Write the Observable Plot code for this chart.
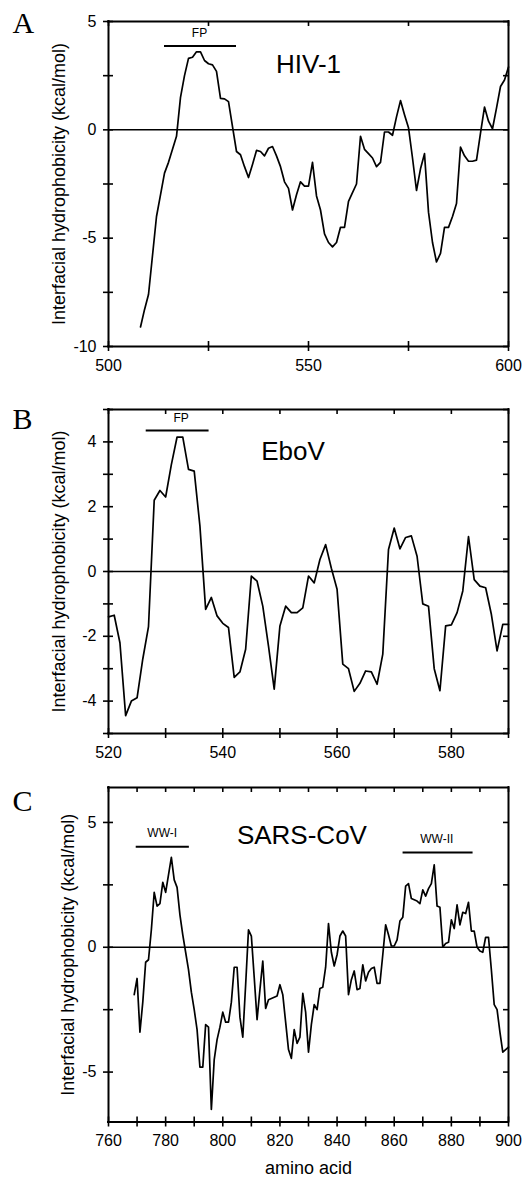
<!DOCTYPE html>
<html><head><meta charset="utf-8">
<script src="https://cdn.jsdelivr.net/npm/d3@7"></script>
<script src="https://cdn.jsdelivr.net/npm/@observablehq/plot@0.6"></script>
<style>
body{margin:0;background:#fff;width:523px;height:1177px;overflow:hidden}
.panel{display:block;line-height:0}
.panel svg{display:block}
</style></head><body>
<div id="pa" class="panel"></div>
<div id="pb" class="panel"></div>
<div id="pc" class="panel"></div>
<script>
// ---------- DATA ----------
const yTitle = "Interfacial hydrophobicity (kcal/mol)";
const xTitle = "amino acid";

// Panel A: HIV-1
const hivStart = 508;
const hivValues = [
  -9.1, -8.3, -7.6, -5.8, -4.0, -3.0, -2.0, -1.5, -0.9, -0.3,
  1.5, 2.5, 3.3, 3.35, 3.6, 3.6, 3.2, 3.05, 3.0, 2.7,
  1.45, 1.43, 1.3, 0.15, -1.0, -1.15, -1.7, -2.2, -1.6, -0.95,
  -1.0, -1.2, -0.85, -0.77, -1.2, -1.7, -2.4, -2.7, -3.7, -3.0,
  -2.4, -2.6, -2.6, -1.5, -3.05, -3.7, -4.8, -5.2, -5.4, -5.2,
  -4.5, -4.5, -3.3, -2.9, -2.5, -0.3, -0.9, -1.1, -1.3, -1.7,
  -1.5, -0.1, -0.1, -0.25, 0.6, 1.35, 0.7, 0.1, -1.3, -2.8,
  -1.8, -1.1, -3.8, -5.2, -6.1, -5.7, -4.5, -4.5, -4.0, -3.4,
  -0.8, -1.2, -1.45, -1.45, -1.4, -0.15, 1.05, 0.4, 0.05, 1.0,
  2.0, 2.3, 2.9
];
const hivXTicks = [500, 525, 550, 575, 600];
const hivXLabels = [500, 550, 600];
const hivYTicks = [-10, -7.5, -5, -2.5, 0, 2.5, 5];
const hivYLabels = [-10, -5, 0, 5];
const hivBars = [{from: 514, to: 532, y: 3.87, tx: 522.75, ty: 4.46, label: "FP"}];
const hivName = [{x: 550, y: 3.0, label: "HIV-1"}];

// Panel B: EboV
const eboStart = 520;
const eboValues = [
  -1.4, -1.35, -2.2, -4.45, -4.0, -3.9, -2.7, -1.7, 2.2, 2.5,
  2.3, 3.3, 4.15, 4.15, 3.15, 3.1, 1.4, -1.17, -0.8, -1.37,
  -1.6, -1.73, -3.27, -3.1, -2.4, -0.14, -0.3, -1.07, -2.3, -3.63,
  -1.68, -1.07, -1.27, -1.27, -1.12, -0.14, -0.35, 0.37, 0.83, 0.1,
  -0.55, -2.86, -3.0, -3.7, -3.45, -3.07, -3.1, -3.48, -2.55, 0.68,
  1.34, 0.7, 1.05, 1.1, 0.47, -1.0, -1.07, -3.0, -3.68, -1.68,
  -1.65, -1.27, -0.6, 1.08, -0.25, -0.45, -0.5, -1.32, -2.45, -1.63,
  -1.63
];
const eboXTicks = [520, 530, 540, 550, 560, 570, 580, 590];
const eboXLabels = [520, 540, 560, 580];
const eboYTicks = [-5, -4, -3, -2, -1, 0, 1, 2, 3, 4, 5];
const eboYLabels = [-4, -2, 0, 2, 4];
const eboBars = [{from: 526.6, to: 537.6, y: 4.35, tx: 532.7, ty: 4.72, label: "FP"}];
const eboName = [{x: 552.3, y: 3.7, label: "EboV"}];

// Panel C: SARS-CoV
const sarsStart = 769;
const sarsValues = [
  -1.9, -1.25, -3.4, -2.2, -0.6, -0.5, 0.7, 2.2, 1.65, 1.75,
  2.6, 2.2, 2.9, 3.6, 2.7, 2.4, 1.3, 0.5, -0.2, -0.9,
  -1.8, -2.5, -3.3, -4.8, -4.8, -3.1, -3.2, -6.5, -4.5, -3.7,
  -3.2, -2.6, -3.0, -3.0, -2.2, -0.8, -0.8, -2.8, -3.6, -1.5,
  0.7, 0.45, -1.2, -2.9, -1.7, -0.55, -2.45, -2.1, -2.05, -2.0,
  -1.95, -1.5, -1.9, -3.0, -4.1, -4.45, -3.3, -3.85, -3.6, -1.85,
  -2.6, -4.2, -3.1, -2.3, -2.5, -1.65, -1.6, -0.8, 0.95, -0.2,
  -0.75, -0.3, 0.45, 0.65, 0.45, -1.9, -1.3, -0.95, -1.7, -1.65,
  -0.7, -1.35, -1.0, -0.85, -0.8, -1.45, -1.45, -0.3, 0.9, 0.5,
  0.05, 0.05, 0.3, 1.05, 1.2, 2.45, 2.55, 1.95, 1.9, 1.85,
  1.75, 2.3, 2.05, 2.35, 2.55, 3.3, 1.65, 1.6, 0.0, 0.15,
  0.2, 1.1, 0.75, 1.7, 0.9, 1.4, 1.35, 1.8, 0.65, 0.65,
  0.0, -0.15, -0.2, 0.4, 0.4, -0.9, -2.3, -2.5, -3.4, -4.2,
  -4.1, -4.0
];
const sarsXTicks = [760, 770, 780, 790, 800, 810, 820, 830, 840, 850, 860, 870, 880, 890, 900];
const sarsXLabels = [760, 780, 800, 820, 840, 860, 880, 900];
const sarsYTicks = [-5, -2.5, 0, 2.5, 5];
const sarsYLabels = [-5, 0, 5];
const sarsBars = [
  {from: 769.7, to: 788.3, y: 4.03, tx: 778.8, ty: 4.56, label: "WW-I"},
  {from: 863.1, to: 887.6, y: 3.8, tx: 874.9, ty: 4.34, label: "WW-II"}
];
const sarsName = [{x: 827.7, y: 4.48, label: "SARS-CoV"}];

// ---------- DRAW ----------
const FONT = "'Liberation Sans', Arial, Helvetica, sans-serif";
const SERIF = "'Liberation Serif', 'Times New Roman', Times, serif";
const fmt = d => String(d);
const W = 523, ML = 108, MR = 15;

function panel(o) {
  const rows = o.values.map((v, i) => ({x: o.start + i, y: v}));
  const fh = o.height - o.mt - o.mb;   // frame height in px
  const fw = W - ML - MR;              // frame width in px
  return Plot.plot({
    width: W,
    height: o.height,
    marginTop: o.mt,
    marginBottom: o.mb,
    marginLeft: ML,
    marginRight: MR,
    x: {domain: o.xDomain},
    y: {domain: o.yDomain},
    style: {fontFamily: FONT, fontSize: "16px", color: "black", background: "white"},
    marks: [
      Plot.ruleY([0], {stroke: "black", strokeWidth: 1.5}),
      Plot.line(rows, {x: "x", y: "y", stroke: "black", strokeWidth: 1.7}),
      // frame (box) drawn with rules at the domain ends
      Plot.ruleX(o.xDomain, {x: d => d, stroke: "black", strokeWidth: 2, strokeLinecap: "square"}),
      Plot.ruleY(o.yDomain, {y: d => d, stroke: "black", strokeWidth: 2, strokeLinecap: "square"}),
      // tick marks
      Plot.ruleX(o.xTicks, {x: d => d, insetTop: fh - 10, dy: 5, stroke: "black", strokeWidth: 1.6}),
      Plot.ruleX(o.xTicks, {x: d => d, insetBottom: fh - 5, stroke: "black", strokeWidth: 1.6}),
      Plot.ruleY(o.yTicks, {y: d => d, insetRight: fw - 10, dx: -5, stroke: "black", strokeWidth: 1.6}),
      Plot.ruleY(o.yTicks, {y: d => d, insetLeft: fw - 5, stroke: "black", strokeWidth: 1.6}),
      // tick labels
      Plot.axisX({anchor: "bottom", ticks: o.xLabels, tickSize: 0, tickPadding: 13, tickFormat: fmt, label: null, fontSize: 16}),
      Plot.axisY({anchor: "left", ticks: o.yLabels, tickSize: 0, tickPadding: 12, tickFormat: fmt, label: null, fontSize: 16}),
      // annotations
      Plot.ruleY(o.bars, {x1: "from", x2: "to", y: "y", stroke: "black", strokeWidth: 2}),
      Plot.text(o.bars, {x: "tx", y: "ty", text: "label", fontSize: 12}),
      Plot.text(o.name, {x: "x", y: "y", text: "label", fontSize: 26}),
      Plot.text([yTitle], {frameAnchor: "left", textAnchor: "middle", lineAnchor: "middle", rotate: -90, dx: o.yTitleDx, text: d => d, fontSize: 18}),
      Plot.text([o.letter], {frameAnchor: "top-left", textAnchor: "start", lineAnchor: "middle", dx: -96, dy: o.letterDy, text: d => d, fontFamily: SERIF, fontSize: 30}),
      ...(o.xTitle ? [Plot.text([o.xTitle], {frameAnchor: "bottom", textAnchor: "middle", lineAnchor: "middle", dy: 46.5, text: d => d, fontSize: 18})] : [])
    ]
  });
}

document.getElementById("pa").append(panel({
  height: 380, mt: 21, mb: 34, start: hivStart, values: hivValues,
  xDomain: [500, 600], yDomain: [-10, 5],
  xTicks: hivXTicks, xLabels: hivXLabels, yTicks: hivYTicks, yLabels: hivYLabels,
  bars: hivBars, name: hivName, letter: "A", letterDy: 1.5, yTitleDx: -49
}));
document.getElementById("pb").append(panel({
  height: 390, mt: 29, mb: 37, start: eboStart, values: eboValues,
  xDomain: [520, 590], yDomain: [-5, 5],
  xTicks: eboXTicks, xLabels: eboXLabels, yTicks: eboYTicks, yLabels: eboYLabels,
  bars: eboBars, name: eboName, letter: "B", letterDy: 10, yTitleDx: -49
}));
document.getElementById("pc").append(panel({
  height: 407, mt: 17, mb: 55.5, start: sarsStart, values: sarsValues,
  xDomain: [760, 900], yDomain: [-7, 6.4],
  xTicks: sarsXTicks, xLabels: sarsXLabels, yTicks: sarsYTicks, yLabels: sarsYLabels,
  bars: sarsBars, name: sarsName, letter: "C", letterDy: 14, yTitleDx: -40, xTitle: xTitle
}));
</script>
</body></html>
